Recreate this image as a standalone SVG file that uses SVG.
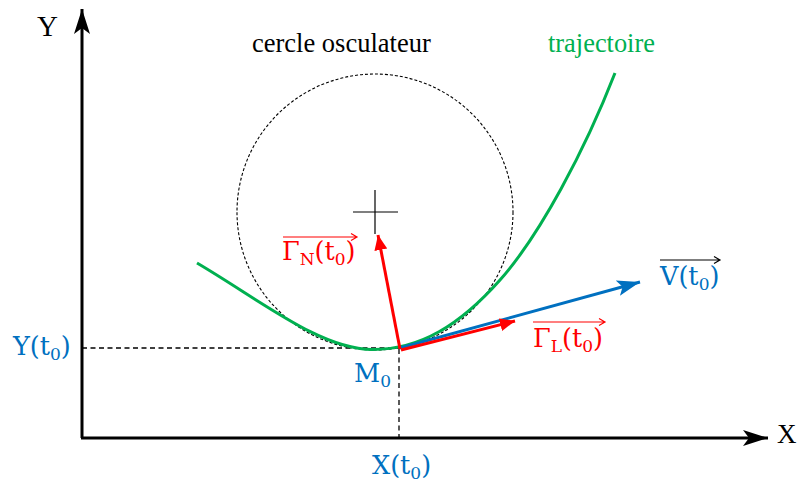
<svg xmlns="http://www.w3.org/2000/svg" width="798" height="483" viewBox="0 0 798 483">
<style>
.axis{stroke:#000;stroke-width:3;fill:none}
.dash{stroke:#000;stroke-width:1.3;stroke-dasharray:5 3.5;fill:none}
.lbl{font-family:"DejaVu Serif","Liberation Serif",serif;font-size:25.5px}
.sub{font-size:17px}
.tnr{font-family:"Liberation Serif","Times New Roman",serif}
.blue{fill:#0070C0}
.red{fill:#FF0000}
.ov{stroke-width:1.2;fill:none}
</style>
<defs>
<marker id="axhead" markerWidth="26" markerHeight="18" refX="25" refY="8" orient="auto" markerUnits="userSpaceOnUse" viewBox="0 0 26 16">
<path d="M0,0 L25,8 L0,16 L6,8 Z" fill="#000"/>
</marker>
<marker id="bluehead" markerWidth="24" markerHeight="18" refX="23" refY="8" orient="auto" markerUnits="userSpaceOnUse" viewBox="0 0 24 16">
<path d="M0,0 L23,8 L0,16 L5,8 Z" fill="#0070C0"/>
</marker>
<marker id="redhead" markerWidth="16" markerHeight="14" refX="15" refY="6.5" orient="auto" markerUnits="userSpaceOnUse" viewBox="0 0 16 13">
<path d="M0,0 L15,6.5 L0,13 Z" fill="#FF0000"/>
</marker>
</defs>

<g id="axes">
<line class="axis" x1="82" y1="438" x2="82" y2="9" marker-end="url(#axhead)"/>
<line class="axis" x1="81" y1="438" x2="768" y2="438" marker-end="url(#axhead)"/>
<text class="tnr" x="37" y="36" font-size="29">Y</text>
<text class="tnr" x="777" y="443" font-size="27">X</text>
</g>

<g id="guides">
<line class="dash" x1="82" y1="348" x2="400" y2="348"/>
<line class="dash" x1="399" y1="349" x2="399" y2="438"/>
</g>

<g id="circle">
<circle cx="375" cy="212" r="138" fill="none" stroke="#000" stroke-width="1.1" stroke-dasharray="3 2"/>
<line x1="353" y1="212" x2="398" y2="212" stroke="#000" stroke-width="1.2"/>
<line x1="375" y1="190" x2="375" y2="234" stroke="#000" stroke-width="1.2"/>
<text class="tnr" x="252" y="52" font-size="26.5">cercle osculateur</text>
</g>

<g id="trajectory">
<path d="M197,263 C260,300 320,349 372,349.5 C420,350 460,325 500,280 C540,235 585,150 615,73" fill="none" stroke="#00B050" stroke-width="3"/>
<text class="tnr" x="548" y="52" font-size="26.4" fill="#00B050">trajectoire</text>
</g>

<g id="connectors">
<line x1="400" y1="348" x2="640" y2="282" stroke="#0070C0" stroke-width="3" marker-end="url(#bluehead)"/>
<line x1="400" y1="349" x2="378" y2="235" stroke="#FF0000" stroke-width="3" marker-end="url(#redhead)"/>
<line x1="401" y1="350" x2="515" y2="321" stroke="#FF0000" stroke-width="3" marker-end="url(#redhead)"/>
</g>

<g id="label-GN">
<text class="lbl red" x="282" y="260">Γ<tspan class="sub" dy="5">N</tspan><tspan dy="-5">(t</tspan><tspan class="sub" dy="5">0</tspan><tspan dy="-5">)</tspan></text>
<path class="ov" stroke="#FF0000" d="M283,237 H357 M351,233.5 L357,237 L351,240.5"/>
</g>

<g id="label-V">
<text class="lbl blue" x="660" y="285">V(t<tspan class="sub" dy="5">0</tspan><tspan dy="-5">)</tspan></text>
<path class="ov" stroke="#000" d="M660,260 H720 M714,256.5 L720,260 L714,263.5"/>
</g>

<g id="label-GL">
<text class="lbl red" x="533" y="347">Γ<tspan class="sub" dy="5">L</tspan><tspan dy="-5">(t</tspan><tspan class="sub" dy="5">0</tspan><tspan dy="-5">)</tspan></text>
<path class="ov" stroke="#FF0000" d="M533,322 H605 M599,318.5 L605,322 L599,325.5"/>
</g>

<g id="label-Y0">
<text class="lbl blue" x="13" y="355">Y(t<tspan class="sub" dy="5">0</tspan><tspan dy="-5">)</tspan></text>
</g>

<g id="label-M0">
<text class="lbl blue" x="354" y="382">M<tspan class="sub" dy="5">0</tspan></text>
</g>

<g id="label-X0">
<text class="lbl blue" x="372" y="474">X(t<tspan class="sub" dy="5">0</tspan><tspan dy="-5">)</tspan></text>
</g>
</svg>
